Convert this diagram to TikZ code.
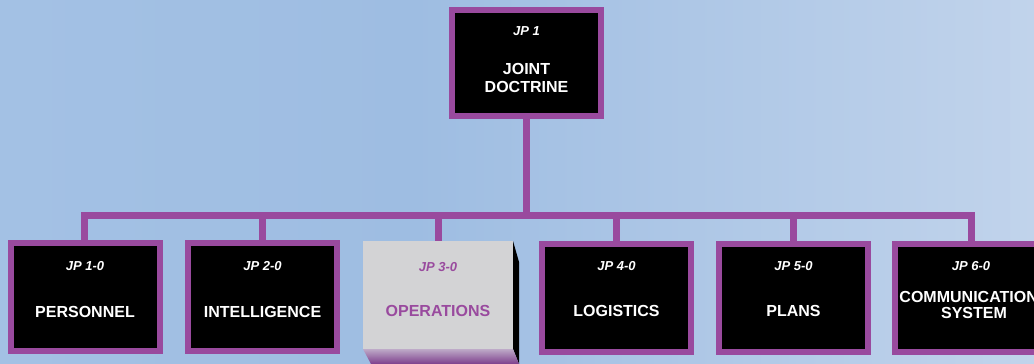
\documentclass[tikz,border=0pt]{standalone}
\usepackage{fontspec}
\setmainfont{Liberation Sans}
\definecolor{jpurple}{RGB}{153,74,158}
\definecolor{opgray}{RGB}{211,211,213}
\definecolor{bgL}{RGB}{170,198,231}
\definecolor{bgM}{RGB}{158,189,226}
\definecolor{bgR}{RGB}{222,230,243}
\definecolor{slabT}{RGB}{190,170,200}
\definecolor{slabB}{RGB}{125,62,140}
\pgfdeclarehorizontalshading{bgshade}{100bp}{color(0bp)=(bgL); color(45bp)=(bgM); color(100bp)=(bgR)}
\begin{document}
\begin{tikzpicture}[x=1pt,y=-1pt,
  jpbox/.style={draw=jpurple,line width=6pt,fill=black,minimum width=149pt,minimum height=108pt,inner sep=0pt},
  conn/.style={draw=jpurple,line width=7pt},
  jplab/.style={font=\bfseries\itshape\fontsize{13}{15}\selectfont,text=white,inner sep=0pt},
  mainlab/.style={font=\bfseries\fontsize{16}{18}\selectfont,text=white,align=center,inner sep=0pt},
]
\useasboundingbox (0,0) rectangle (1034,364);
\clip (0,0) rectangle (1034,364);
\shade[shading=bgshade] (0,0) rectangle (1034,364);

% boxes
\node[jpbox,minimum height=106pt] (top) at (526.5,63) {};
\node[jpbox] (b1) at (85,296.5) {};
\node[jpbox] (b2) at (262.5,297) {};
\node[jpbox] (b4) at (616.5,298) {};
\node[jpbox] (b5) at (793.5,298) {};
\node[jpbox] (b6) at (969,298) {};

% operations 3D box
\fill[black] (513,241) -- (519,262) -- (519,364) -- (513,349) -- cycle;
\shade[top color=slabT,bottom color=slabB] (363,349) -- (513,349) -- (519,364) -- (371,364) -- cycle;
\node[fill=opgray,minimum width=150pt,minimum height=108pt,inner sep=0pt] (b3) at (438,295) {};

% connectors
\coordinate (bar) at (0,215.5);
\draw[conn] (top.south) -- (top.south |- bar);
\draw[conn,line cap=rect] ([xshift=-1pt]b1.north) -- ([xshift=-1pt]b1.north |- bar) -- ([xshift=2pt]b6.north |- bar) -- ([xshift=2pt]b6.north);
\draw[conn] (b2.north |- bar) -- (b2.north);
\draw[conn] (b3.north |- bar) -- (b3.north);
\draw[conn] (b4.north |- bar) -- (b4.north);
\draw[conn] (b5.north |- bar) -- (b5.north);

% texts
\node[jplab] (t0) at (526.5,31) {JP 1};
\node[mainlab] (t0m) at (526.5,78) {JOINT\\DOCTRINE};
\node[jplab] (t1) at (85,266) {JP 1-0};
\node[mainlab] (t1m) at (85,312) {PERSONNEL};
\node[jplab] (t2) at (262.5,266) {JP 2-0};
\node[mainlab] (t2m) at (262.5,312) {INTELLIGENCE};
\node[jplab,text=jpurple] (t3) at (438,267) {JP 3-0};
\node[mainlab,text=jpurple] (t3m) at (438,311) {OPERATIONS};
\node[jplab] (t4) at (616.5,266) {JP 4-0};
\node[mainlab] (t4m) at (616.5,311) {LOGISTICS};
\node[jplab] (t5) at (793.5,266) {JP 5-0};
\node[mainlab] (t5m) at (793.5,311) {PLANS};
\node[jplab] (t6) at (971,266) {JP 6-0};
\node[mainlab,font=\bfseries\fontsize{16}{16}\selectfont] (t6m) at (974,305) {COMMUNICATIONS\\SYSTEM};
\end{tikzpicture}
\end{document}
